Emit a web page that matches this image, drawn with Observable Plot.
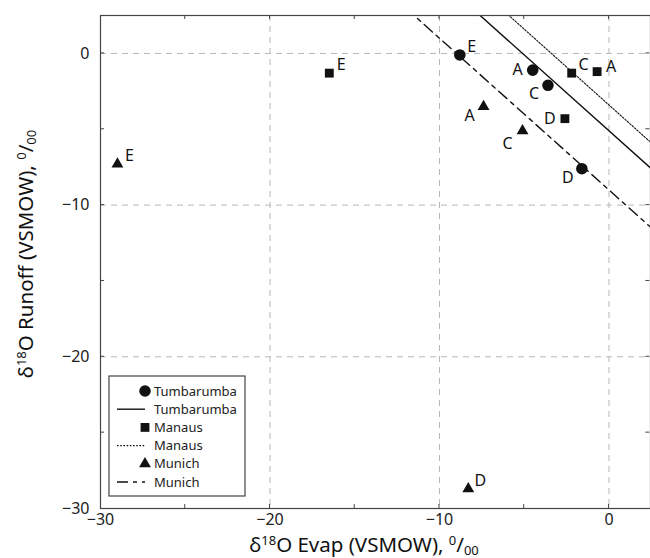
<!DOCTYPE html>
<html><head><meta charset="utf-8">
<script src="https://cdn.jsdelivr.net/npm/d3@7"></script>
<script src="https://cdn.jsdelivr.net/npm/@observablehq/plot@0.6"></script>
<style>
body{margin:0;background:#fff;overflow:hidden}
#chart{position:relative;width:650px;height:558px}
svg{display:block}
</style>
</head><body><div id="chart"></div>
<script>
// ---- data ----
const sites = ["Tumbarumba", "Manaus", "Munich"];
const pointLabels = ["A", "C", "D", "E"];

const tumbEvap   = [-4.5, -3.6, -1.6, -8.8];
const tumbRunoff = [-1.1, -2.1, -7.6, -0.1];
const tumbLabelPos = ["w", "sw", "sw", "ne"];

const manEvap   = [-0.7, -2.2, -2.6, -16.5];
const manRunoff = [-1.2, -1.3, -4.3, -1.3];
const manLabelPos = ["e", "ne", "w", "ne"];

const munEvap   = [-7.4, -5.1, -8.3, -29.0];
const munRunoff = [-3.5, -5.1, -28.7, -7.3];
const munLabelPos = ["sw", "ssw", "ne", "ne"];

// reference lines (two end points each)
const tumbLineEvap = [-12, 4],  tumbLineRunoff = [6.9, -9.1];
const manLineEvap  = [-12, 4],  manLineRunoff  = [8.6, -7.4];
const munLineEvap  = [-12, 4],  munLineRunoff  = [3.0, -13.0];

const xLabelTicks = [-30, -20, -10, 0];
const yLabelTicks = [-30, -20, -10, 0];
const gridTicks = [-20, -10, 0];
const minorTicks = [-25, -20, -15, -10, -5, 0];

// ---- build tables ----
function pts(site, ex, ro, pos) {
  return ex.map((v, i) => ({site, evap: v, runoff: ro[i], label: pointLabels[i], pos: pos[i]}));
}
const points = [
  ...pts("Tumbarumba", tumbEvap, tumbRunoff, tumbLabelPos),
  ...pts("Manaus", manEvap, manRunoff, manLabelPos),
  ...pts("Munich", munEvap, munRunoff, munLabelPos)
];
function ln(site, ex, ro) { return ex.map((v, i) => ({site, evap: v, runoff: ro[i]})); }
const lines = {
  Tumbarumba: ln("Tumbarumba", tumbLineEvap, tumbLineRunoff),
  Manaus: ln("Manaus", manLineEvap, manLineRunoff),
  Munich: ln("Munich", munLineEvap, munLineRunoff)
};

const symbolOf = {Tumbarumba: "circle", Manaus: "square", Munich: "triangle"};
const rOf = {Tumbarumba: 5.8, Manaus: 5.0, Munich: 4.4};
const lineStyle = {
  Tumbarumba: {strokeWidth: 1.4, strokeDasharray: null},
  Manaus: {strokeWidth: 1.1, strokeDasharray: "1.6,1.6"},
  Munich: {strokeWidth: 1.4, strokeDasharray: "11,5,4,5"}
};
const offsets = {w: [-15, 0], sw: [-14, 9], ssw: [-15, 13], ne: [12, -8], e: [14, -5]};
const FONT = "'Noto Sans', sans-serif";
const INK = "#111";

const marks = [
  Plot.gridX(gridTicks, {stroke: "#b8b8b8", strokeOpacity: 1, strokeDasharray: "6,5"}),
  Plot.gridY(gridTicks, {stroke: "#b8b8b8", strokeOpacity: 1, strokeDasharray: "6,5"}),
  ...sites.map(s => Plot.line(lines[s], {x: "evap", y: "runoff", stroke: INK, clip: true, ...lineStyle[s]})),
  ...sites.map(s => Plot.dot(points.filter(d => d.site === s), {x: "evap", y: "runoff", symbol: () => symbolOf[s], r: rOf[s], fill: INK, stroke: "none"})),
  ...Object.keys(offsets).map(k => Plot.text(points.filter(d => d.pos === k), {
    x: "evap", y: "runoff", text: "label", dx: offsets[k][0], dy: offsets[k][1],
    fontSize: 16, fill: INK, textAnchor: "middle", lineAnchor: "middle"
  })),
  Plot.frame({stroke: "#444", strokeWidth: 1.2}),
  Plot.axisX(xLabelTicks, {anchor: "bottom", tickSize: 0, tickPadding: 5, fontSize: 16, label: null, fill: "#222"}),
  Plot.axisY(yLabelTicks, {anchor: "left", tickSize: 0, tickPadding: 11, fontSize: 16, label: null, fill: "#222"})
];

const plot = Plot.plot({
  width: 650, height: 558,
  marginLeft: 100, marginRight: 0, marginTop: 15, marginBottom: 50,
  style: {fontFamily: FONT, background: "#fff", overflow: "visible"},
  x: {domain: [-30, 2.45]},
  y: {domain: [-30, 2.5]},
  symbol: {type: "identity"},
  marks
});
document.getElementById("chart").appendChild(plot);

// ---- inward minor ticks, axis labels and legend ----
const svg = d3.select(plot);
const sx = plot.scale("x"), sy = plot.scale("y");
const fLeft = 100, fRight = 649.4, fTop = 15, fBottom = 508;
const tg = svg.append("g").attr("stroke", "#444").attr("stroke-width", 1);
minorTicks.forEach(v => {
  const x = sx.apply(v);
  tg.append("line").attr("x1", x).attr("x2", x).attr("y1", fBottom).attr("y2", fBottom - 4);
  tg.append("line").attr("x1", x).attr("x2", x).attr("y1", fTop).attr("y2", fTop + 4);
  const y = sy.apply(v);
  tg.append("line").attr("x1", fLeft).attr("x2", fLeft + 4).attr("y1", y).attr("y2", y);
  tg.append("line").attr("x1", fRight).attr("x2", fRight - 4).attr("y1", y).attr("y2", y);
});

function axisTitle(g, mainText) {
  const t = g.append("text").attr("font-family", FONT).attr("font-size", 20.5).attr("fill", INK);
  t.append("tspan").text("δ");
  t.append("tspan").attr("font-size", 13).attr("dy", -7).text("18");
  t.append("tspan").attr("dy", 7).text("O " + mainText + ", ");
  t.append("tspan").attr("font-size", 13).attr("dy", -7).text("0");
  t.append("tspan").attr("dy", 7).text("/");
  t.append("tspan").attr("font-size", 13).attr("dy", 3).text("00");
  return t;
}
axisTitle(svg.append("g"), "Evap (VSMOW)").attr("x", 364).attr("y", 552).attr("text-anchor", "middle");
axisTitle(svg.append("g").attr("transform", "translate(33,254) rotate(-90)"), "Runoff (VSMOW)").attr("text-anchor", "middle");

// legend
const lg = svg.append("g");
lg.append("rect").attr("x", 109).attr("y", 376).attr("width", 136).attr("height", 120)
  .attr("fill", "#fff").attr("stroke", "#444").attr("stroke-width", 1.2);
const legendItems = [];
sites.forEach(s => { legendItems.push({site: s, kind: "dot"}); legendItems.push({site: s, kind: "line"}); });
const d3sym = {circle: d3.symbolCircle, square: d3.symbolSquare, triangle: d3.symbolTriangle};
legendItems.forEach((it, i) => {
  const y = 391 + i * 18.2;
  if (it.kind === "dot") {
    const r = rOf[it.site];
    lg.append("path").attr("transform", `translate(145,${y})`)
      .attr("d", d3.symbol(d3sym[symbolOf[it.site]], Math.PI * r * r)()).attr("fill", INK);
  } else {
    const ls = lineStyle[it.site];
    lg.append("line").attr("x1", 117).attr("x2", 145).attr("y1", y).attr("y2", y)
      .attr("stroke", INK).attr("stroke-width", ls.strokeWidth)
      .attr("stroke-dasharray", ls.strokeDasharray);
  }
  lg.append("text").attr("x", 154).attr("y", y).attr("dy", "0.35em")
    .attr("text-anchor", "start")
    .attr("font-family", FONT).attr("font-size", 13).attr("fill", "#222").text(it.site);
});
</script>
</body></html>
